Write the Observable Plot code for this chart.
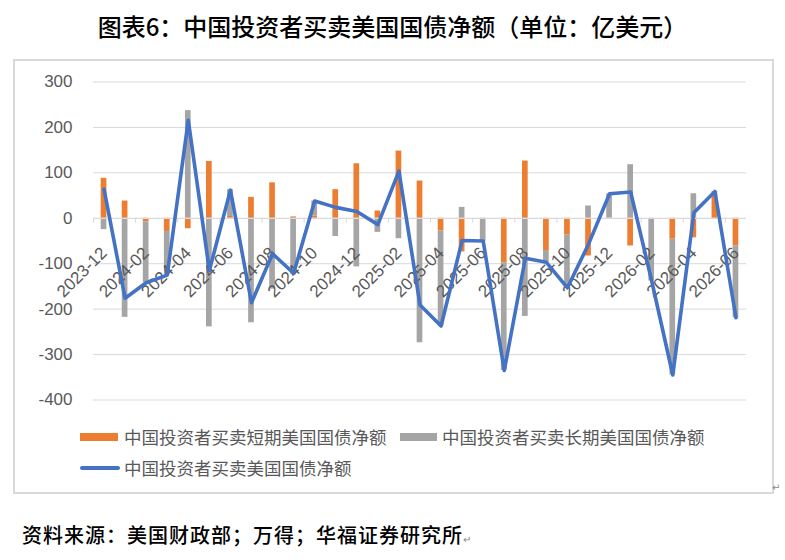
<!DOCTYPE html>
<html>
<head>
<meta charset="utf-8">
<script src="https://cdn.jsdelivr.net/npm/d3@7"></script>
<script src="https://cdn.jsdelivr.net/npm/@observablehq/plot@0.6"></script>
<style>
  body { margin: 0; background: #fff; }
  #page { position: relative; width: 785px; height: 560px; background: #fff; overflow: hidden; }
  #title { position: absolute; left: 0; top: 8px; width: 785px; text-align: center; font-family: "Noto Sans CJK SC", sans-serif; font-size: 24px; line-height: 36px; color: #000; font-weight: 500; }
  #box { position: absolute; left: 13px; top: 59px; width: 757px; height: 431px; border: 2px solid #D9D9D9; }
  #chart { position: absolute; left: 13px; top: 60px; }
  .leg { position: absolute; font-family: "Noto Sans CJK SC", sans-serif; font-size: 17.5px; color: #595959; line-height: 24px; white-space: nowrap; }
  .sw { position: absolute; }
  #source { position: absolute; left: 22px; top: 521px; font-family: "Noto Sans CJK SC", sans-serif; font-size: 20px; letter-spacing: 1px; line-height: 28px; color: #000; font-weight: 500; white-space: nowrap; }
  .pm { position: absolute; font-size: 10px; color: #888; font-family: "DejaVu Sans", sans-serif; }
</style>
</head>
<body>
<div id="page">
  <div id="title">图表6：中国投资者买卖美国国债净额（单位：亿美元）</div>
  <div id="box"></div>
  <div id="chart"></div>
  <div class="sw" style="left:80px;top:433px;width:38px;height:8px;background:#ED7D31"></div>
  <div class="leg" style="left:124px;top:425px">中国投资者买卖短期美国国债净额</div>
  <div class="sw" style="left:400px;top:433px;width:37px;height:8px;background:#A5A5A5"></div>
  <div class="leg" style="left:442px;top:425px">中国投资者买卖长期美国国债净额</div>
  <div class="sw" style="left:80px;top:466px;width:40px;height:3.5px;background:#4472C4;border-radius:2px"></div>
  <div class="leg" style="left:124px;top:456px">中国投资者买卖美国国债净额</div>
  <div class="pm" style="left:772px;top:482px">↵</div>
  <div id="source">资料来源：美国财政部；万得；华福证券研究所<span style="font-size:10px;color:#888;letter-spacing:0">↵</span></div>
</div>
<script>
const months = ["2023-12","2024-01","2024-02","2024-03","2024-04","2024-05","2024-06","2024-07","2024-08","2024-09","2024-10","2024-11","2024-12","2025-01","2025-02","2025-03","2025-04","2025-05","2025-06","2025-07","2025-08","2025-09","2025-10","2025-11","2025-12","2026-01","2026-02","2026-03","2026-04","2026-05","2026-06"];
const shortTerm = [88, 38, -8, -29, -23, 125, 4, 46, 78, 3, 5, 63, 120, 16, 148, 82, -28, -74, -1, -98, 126, -71, -37, -83, 1, -61, 0, -46, -43, 56, -61];
const longTerm = [-25, -218, -134, -96, 237, -239, 59, -230, -156, -124, 33, -40, -107, -31, -45, -274, -209, 24, -50, -237, -216, -26, -116, 27, 53, 118, -138, -299, 54, 3, -158];
const total = [64, -176, -142, -125, 216, -115, 62, -186, -78, -121, 38, 24, 15, -14, 104, -191, -237, -49, -50, -335, -88, -97, -153, -57, 54, 58, -138, -345, 12, 59, -219];
const yTicks = [-400, -300, -200, -100, 0, 100, 200, 300];
const seriesNames = ["中国投资者买卖短期美国国债净额", "中国投资者买卖长期美国国债净额"];
const seriesColors = ["#ED7D31", "#A5A5A5"];

const barData = [];
months.forEach((m, i) => {
  barData.push({month: m, series: seriesNames[0], value: shortTerm[i]});
  barData.push({month: m, series: seriesNames[1], value: longTerm[i]});
});
const lineData = months.map((m, i) => ({month: m, value: total[i]}));
const labelMonths = months.filter((m, i) => i % 2 === 0);

const chart = Plot.plot({
  width: 759,
  height: 360,
  marginLeft: 80,
  marginRight: 26,
  marginTop: 21.5,
  marginBottom: 20.5,
  style: {fontFamily: "Liberation Sans, Arial, sans-serif", fontSize: "17px", color: "#595959", background: "transparent"},
  x: {domain: months, paddingInner: 0.73, paddingOuter: 0.365, round: false, axis: null},
  y: {domain: [-400, 300], ticks: yTicks, tickSize: 0, tickPadding: 21, tickFormat: d => String(d), label: null},
  color: {domain: seriesNames, range: seriesColors},
  marks: [
    Plot.ruleY(yTicks.filter(d => d !== 0), {stroke: "#D9D9D9", strokeWidth: 1}),
    Plot.barY(barData, {x: "month", y: "value", fill: "series", order: seriesNames}),
    Plot.ruleY([0], {stroke: "#D9D9D9", strokeWidth: 1.2}),
    Plot.ruleX(labelMonths, {x: d => d, y1: 0, y2: -11, dx: -10.53, stroke: "#D9D9D9", strokeWidth: 1}),
    Plot.text(labelMonths, {x: d => d, y: () => 0, text: d => d, rotate: -45, textAnchor: "end", dx: 0, dy: 32, fill: "#595959", fontSize: 17}),
    Plot.line(lineData, {x: "month", y: "value", stroke: "#4472C4", strokeWidth: 3.6, strokeLinejoin: "round", strokeLinecap: "round"})
  ]
});
document.getElementById("chart").appendChild(chart);
</script>
</body>
</html>
